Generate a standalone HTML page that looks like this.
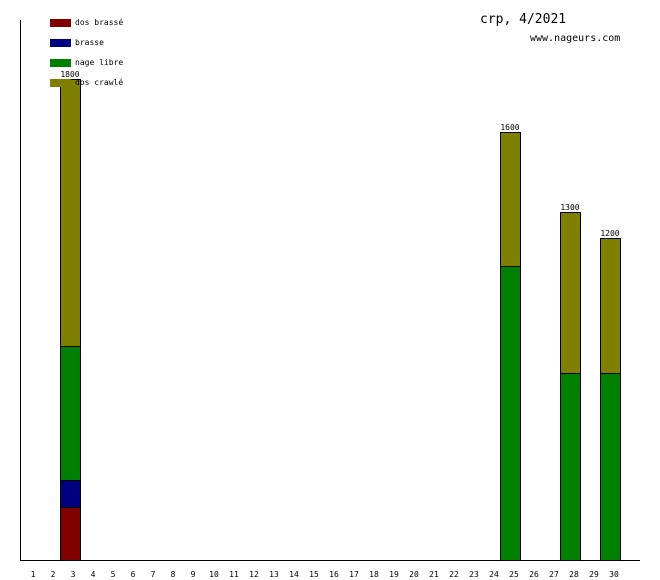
<!DOCTYPE html>
<html><head><meta charset="utf-8"><style>body{margin:0;background:#fff}svg{display:block}text{font-family:"DejaVu Sans Mono","Liberation Mono",monospace}</style></head>
<body>
<svg width="660" height="580" xmlns="http://www.w3.org/2000/svg">
<rect width="660" height="580" fill="#fff"/>
<line x1="20.5" y1="20" x2="20.5" y2="560" stroke="#000"/>
<line x1="20" y1="560.5" x2="640" y2="560.5" stroke="#000"/>
<g stroke="#000" stroke-width="1">
<rect x="60.5" y="79.5" width="20" height="267" fill="#808000"/>
<rect x="60.5" y="346.5" width="20" height="134" fill="#008000"/>
<rect x="60.5" y="480.5" width="20" height="27" fill="#000080"/>
<rect x="60.5" y="507.5" width="20" height="53" fill="#800000"/>
<rect x="500.5" y="132.5" width="20" height="134" fill="#808000"/>
<rect x="500.5" y="266.5" width="20" height="294" fill="#008000"/>
<rect x="560.5" y="212.5" width="20" height="161" fill="#808000"/>
<rect x="560.5" y="373.5" width="20" height="187" fill="#008000"/>
<rect x="600.5" y="238.5" width="20" height="135" fill="#808000"/>
<rect x="600.5" y="373.5" width="20" height="187" fill="#008000"/>
</g>
<g font-size="8" text-anchor="middle">
<text x="70" y="77">1800</text>
<text x="510" y="130">1600</text>
<text x="570" y="210">1300</text>
<text x="610" y="236">1200</text>
</g>
<rect x="50" y="19" width="21" height="8" fill="#800000"/>
<rect x="50" y="39" width="21" height="8" fill="#000080"/>
<rect x="50" y="59" width="21" height="8" fill="#008000"/>
<rect x="50" y="79" width="21" height="8" fill="#808000"/>
<g font-size="8">
<text x="75" y="25">dos brassé</text>
<text x="75" y="45">brasse</text>
<text x="75" y="65">nage libre</text>
<text x="75" y="85">dos crawlé</text>
</g>
<text x="480" y="23" font-size="13">crp, 4/2021</text>
<text x="530" y="41" font-size="10">www.nageurs.com</text>
<g font-size="8" text-anchor="middle">
<text x="33" y="577">1</text><text x="53" y="577">2</text><text x="73" y="577">3</text><text x="93" y="577">4</text><text x="113" y="577">5</text><text x="133" y="577">6</text><text x="153" y="577">7</text><text x="173" y="577">8</text><text x="193" y="577">9</text><text x="214" y="577">10</text><text x="234" y="577">11</text><text x="254" y="577">12</text><text x="274" y="577">13</text><text x="294" y="577">14</text><text x="314" y="577">15</text><text x="334" y="577">16</text><text x="354" y="577">17</text><text x="374" y="577">18</text><text x="394" y="577">19</text><text x="414" y="577">20</text><text x="434" y="577">21</text><text x="454" y="577">22</text><text x="474" y="577">23</text><text x="494" y="577">24</text><text x="514" y="577">25</text><text x="534" y="577">26</text><text x="554" y="577">27</text><text x="574" y="577">28</text><text x="594" y="577">29</text><text x="614" y="577">30</text>
</g>
</svg>
</body></html>
